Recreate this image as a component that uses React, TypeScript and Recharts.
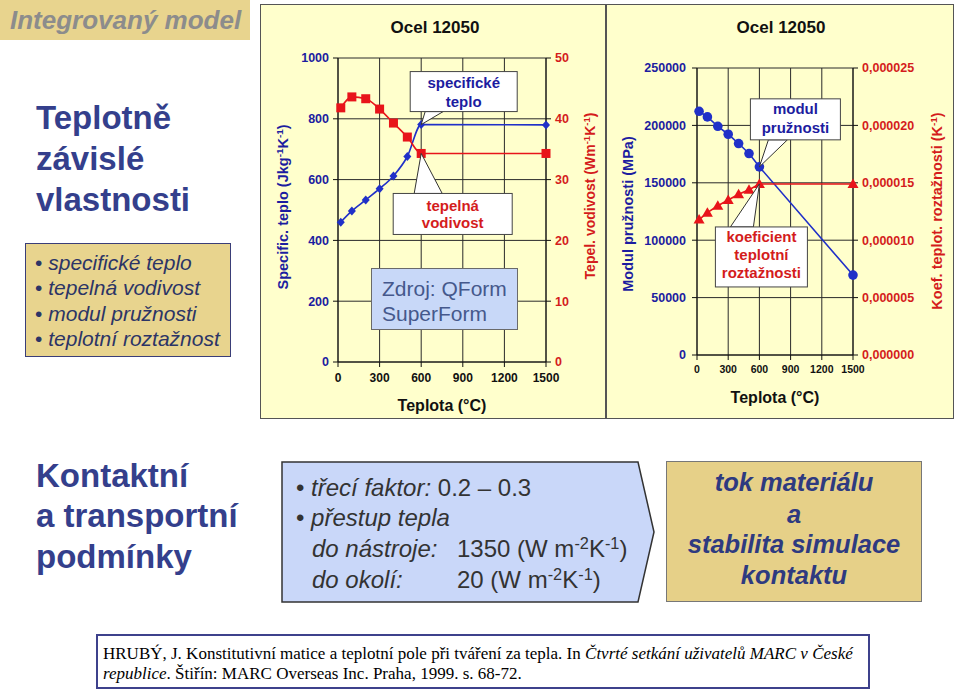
import React from 'react';
import { LineChart, Line, XAxis, YAxis, CartesianGrid, ReferenceDot } from 'recharts';

// ---- data ----
const temperature = [20, 100, 200, 300, 400, 500, 600, 1500];
const specificHeat = [460, 497, 533, 570, 612, 676, 781, 780];
const conductivity = [41.8, 43.6, 43.3, 41.6, 39.3, 37.0, 34.3, 34.3];
const elasticModulus = [212300, 207400, 199200, 192300, 184200, 175500, 163900, 69600];
const expansionCoef = [0.0000118, 0.0000124, 0.000013, 0.0000135, 0.000014, 0.0000144, 0.0000149, 0.0000149];

const tempTicks = [0, 300, 600, 900, 1200, 1500];
const heatTicks = [0, 200, 400, 600, 800, 1000];
const condTicks = [0, 10, 20, 30, 40, 50];
const modulusTicks = [0, 50000, 100000, 150000, 200000, 250000];
const coefTicks = [0, 0.000005, 0.00001, 0.000015, 0.00002, 0.000025];

const heatRows = temperature.map((t, i) => ({ t, heat: specificHeat[i], cond: conductivity[i] }));
const mechRows = temperature.map((t, i) => ({ t, mod: elasticModulus[i], coef: expansionCoef[i] }));

// ---- styles ----
const SANS = '"Liberation Sans", Arial, sans-serif';
const SERIF = '"Liberation Serif", "Times New Roman", serif';
const BLUE_TXT = '#1c1ca0';
const RED_TXT = '#d41c1c';
const BLUE_LINE = '#2030c8';
const RED_LINE = '#e8141a';
const PANEL = '#ffffcc';
const TAN = '#e8d48e';
const NAVY = '#343f8c';

const Diamond = (p: any) => {
  const { cx, cy, index } = p;
  if (cx == null || cy == null) return <g key={index} />;
  return <path key={index} d={`M${cx},${cy - 4.5} L${cx + 4},${cy} L${cx},${cy + 4.5} L${cx - 4},${cy} Z`} fill={BLUE_LINE} />;
};
const Square = (p: any) => {
  const { cx, cy, index } = p;
  if (cx == null || cy == null) return <g key={index} />;
  return <rect key={index} x={cx - 4.5} y={cy - 4.5} width={9} height={9} fill={RED_LINE} />;
};
const Circle = (p: any) => {
  const { cx, cy, index } = p;
  if (cx == null || cy == null) return <g key={index} />;
  return <circle key={index} cx={cx} cy={cy} r={4.8} fill={BLUE_LINE} />;
};
const Triangle = (p: any) => {
  const { cx, cy, index } = p;
  if (cx == null || cy == null) return <g key={index} />;
  return <path key={index} d={`M${cx},${cy - 5.5} L${cx + 5.5},${cy + 4} L${cx - 5.5},${cy + 4} Z`} fill={RED_LINE} />;
};

type Callout = {
  box: [number, number, number, number];
  wedge: [number, number, number, number];
  lines: string[];
  lineY: number[];
  color: string;
};

const makeCallout = (spec: Callout) => (props: any) => {
  const { cx, cy } = props;
  if (cx == null || cy == null) return <g />;
  const [bx, by, bw, bh] = spec.box;
  const [w1x, w1y, w2x, w2y] = spec.wedge;
  return (
    <g>
      <polygon
        points={`${cx},${cy} ${cx + w1x},${cy + w1y} ${cx + w2x},${cy + w2y}`}
        fill="#ffffff"
        stroke="#333"
        strokeWidth={1}
      />
      <rect x={cx + bx} y={cy + by} width={bw} height={bh} fill="#ffffff" stroke="#444" strokeWidth={1} />
      {spec.lines.map((s, i) => (
        <text
          key={i}
          x={cx + bx + bw / 2}
          y={cy + by + spec.lineY[i]}
          textAnchor="middle"
          dominantBaseline="central"
          fontFamily={SANS}
          fontWeight="bold"
          fontSize={15}
          fill={spec.color}
        >
          {s}
        </text>
      ))}
    </g>
  );
};

const heatCallout = makeCallout({
  box: [-11, -53, 107, 40],
  wedge: [4, -13, 22, -13],
  lines: ['specifické', 'teplo'],
  lineY: [11, 30],
  color: BLUE_TXT,
});
const condCallout = makeCallout({
  box: [-28, 40, 119, 41],
  wedge: [-7, 40, 21, 40],
  lines: ['tepelná', 'vodivost'],
  lineY: [12, 29],
  color: RED_TXT,
});
const modCallout = makeCallout({
  box: [-9, -68, 90, 41],
  wedge: [9, -27, 28, -27],
  lines: ['modul', 'pružnosti'],
  lineY: [10, 29],
  color: BLUE_TXT,
});
const coefCallout = makeCallout({
  box: [-44, 43, 92, 60],
  wedge: [-29, 43, -6, 43],
  lines: ['koeficient', 'teplotní', 'roztažnosti'],
  lineY: [10, 28, 46],
  color: RED_TXT,
});

const Sup = ({ children }: any) => (
  <span style={{ fontSize: '0.68em', position: 'relative', top: '-0.5em' }}>{children}</span>
);

const Abs = ({ x, y, anchor = 'middle', style, children }: any) => {
  const tx = anchor === 'middle' ? '-50%' : anchor === 'end' ? '-100%' : '0';
  return (
    <div
      style={{
        position: 'absolute',
        left: x,
        top: y,
        transform: `translate(${tx}, -50%)`,
        whiteSpace: 'nowrap',
        fontFamily: SANS,
        lineHeight: 1,
        ...style,
      }}
    >
      {children}
    </div>
  );
};

const RotTitle = ({ x, y, color, size = 14, children }: any) => (
  <div
    style={{
      position: 'absolute',
      left: x,
      top: y,
      transform: 'translate(-50%, -50%) rotate(-90deg)',
      whiteSpace: 'nowrap',
      fontFamily: SANS,
      fontWeight: 'bold',
      fontSize: size,
      color,
      lineHeight: 1,
    }}
  >
    {children}
  </div>
);

const fmtCoef = (v: number) => v.toFixed(6).replace('.', ',');

export default function App() {
  const axisTick = { fontFamily: SANS, fontWeight: 'bold' as const };
  const boxText = { fontSize: 24, color: '#333' };
  return (
    <div
      style={{
        position: 'absolute',
        left: 0,
        top: 0,
        width: 960,
        height: 698,
        background: '#ffffff',
        overflow: 'hidden',
        fontFamily: SANS,
      }}
    >
      {/* banner */}
      <div style={{ position: 'absolute', left: 0, top: 0, width: 250, height: 40, background: TAN }} />
      <Abs x={10} y={20} anchor="start" style={{ fontSize: 26, fontWeight: 'bold', fontStyle: 'italic', color: '#8c8c8c' }}>
        Integrovaný model
      </Abs>

      {/* left heading */}
      <Abs x={36} y={117} anchor="start" style={{ fontSize: 33, fontWeight: 'bold', color: NAVY }}>Teplotně</Abs>
      <Abs x={36} y={158} anchor="start" style={{ fontSize: 33, fontWeight: 'bold', color: NAVY }}>závislé</Abs>
      <Abs x={36} y={199} anchor="start" style={{ fontSize: 33, fontWeight: 'bold', color: NAVY }}>vlastnosti</Abs>

      <div
        style={{
          position: 'absolute',
          left: 25,
          top: 243,
          width: 206,
          height: 114,
          boxSizing: 'border-box',
          background: TAN,
          border: '1.5px solid #3a3e78',
        }}
      />
      {['specifické teplo', 'tepelná vodivost', 'modul pružnosti', 'teplotní roztažnost'].map((s, i) => (
        <Abs key={s} x={35} y={262 + i * 25.3} anchor="start" style={{ fontSize: 21, fontStyle: 'italic', color: '#2c3566' }}>
          <span style={{ fontStyle: 'normal' }}>•</span> {s}
        </Abs>
      ))}

      {/* chart panel */}
      <div
        style={{
          position: 'absolute',
          left: 260,
          top: 4,
          width: 694,
          height: 415,
          boxSizing: 'border-box',
          background: PANEL,
          border: '1.5px solid #555',
        }}
      />
      <div style={{ position: 'absolute', left: 605, top: 4, width: 2, height: 415, background: '#555' }} />

      <Abs x={435} y={27} style={{ fontSize: 17, fontWeight: 'bold', color: '#111' }}>Ocel 12050</Abs>
      <Abs x={781} y={27} style={{ fontSize: 17, fontWeight: 'bold', color: '#111' }}>Ocel 12050</Abs>

      {/* left chart */}
      <div style={{ position: 'absolute', left: 260, top: 4 }}>
        <LineChart width={346} height={415} data={heatRows} margin={{ top: 54, right: 0, bottom: 0, left: 0 }}>
          <CartesianGrid yAxisId="l" stroke="#2a2a2a" strokeWidth={1} fill="none" />
          <XAxis
            dataKey="t"
            type="number"
            domain={[0, 1500]}
            ticks={tempTicks}
            height={57}
            tickSize={5}
            tickMargin={6}
            interval={0}
            stroke="#111"
            tick={{ ...axisTick, fontSize: 12, fill: '#111' }}
          />
          <YAxis
            yAxisId="l"
            domain={[0, 1000]}
            ticks={heatTicks}
            width={78}
            tickSize={5}
            tickMargin={4}
            interval={0}
            stroke="#111"
            tick={{ ...axisTick, fontSize: 12.5, fill: BLUE_TXT }}
          />
          <YAxis
            yAxisId="r"
            orientation="right"
            domain={[0, 50]}
            ticks={condTicks}
            width={60}
            tickSize={5}
            tickMargin={4}
            interval={0}
            stroke="#111"
            tick={{ ...axisTick, fontSize: 12.5, fill: RED_TXT }}
          />
          <Line yAxisId="l" dataKey="heat" type="monotone" stroke={BLUE_LINE} strokeWidth={1.6} dot={Diamond} activeDot={false} isAnimationActive={false} />
          <Line yAxisId="r" dataKey="cond" type="monotone" stroke={RED_LINE} strokeWidth={1.6} dot={Square} activeDot={false} isAnimationActive={false} />
          <ReferenceDot yAxisId="l" x={temperature[6]} y={specificHeat[6]} shape={heatCallout} />
          <ReferenceDot yAxisId="r" x={temperature[6]} y={conductivity[6]} shape={condCallout} />
        </LineChart>
      </div>

      <div
        style={{
          position: 'absolute',
          left: 371,
          top: 268,
          width: 147,
          height: 62,
          boxSizing: 'border-box',
          background: '#c8d8f8',
          border: '1px solid #6a6a6a',
        }}
      />
      <Abs x={382} y={288} anchor="start" style={{ fontSize: 21, color: '#45588c' }}>Zdroj: QForm</Abs>
      <Abs x={382} y={313} anchor="start" style={{ fontSize: 21, color: '#45588c' }}>SuperForm</Abs>

      <Abs x={442} y={406} style={{ fontSize: 16, fontWeight: 'bold', color: '#111' }}>Teplota (°C)</Abs>
      <RotTitle x={283} y={207} color={BLUE_TXT} size={14.5}>
        Specific. teplo (Jkg<Sup>-1</Sup>K<Sup>-1</Sup>)
      </RotTitle>
      <RotTitle x={590} y={196} color={RED_TXT} size={14}>
        Tepel. vodivost (Wm<Sup>-1</Sup>K<Sup>-1</Sup>)
      </RotTitle>

      {/* right chart */}
      <div style={{ position: 'absolute', left: 606, top: 4 }}>
        <LineChart width={348} height={415} data={mechRows} margin={{ top: 64, right: 0, bottom: 0, left: 0 }}>
          <CartesianGrid yAxisId="l" stroke="#2a2a2a" strokeWidth={1} fill="none" />
          <XAxis
            dataKey="t"
            type="number"
            domain={[0, 1500]}
            ticks={tempTicks}
            height={64}
            tickSize={5}
            tickMargin={6}
            interval={0}
            stroke="#111"
            tick={{ ...axisTick, fontSize: 10.5, fill: '#111' }}
          />
          <YAxis
            yAxisId="l"
            domain={[0, 250000]}
            ticks={modulusTicks}
            width={91}
            tickSize={5}
            tickMargin={6}
            interval={0}
            stroke="#111"
            tick={{ ...axisTick, fontSize: 12.5, fill: BLUE_TXT }}
          />
          <YAxis
            yAxisId="r"
            orientation="right"
            domain={[0, 0.000025]}
            ticks={coefTicks}
            tickFormatter={fmtCoef}
            width={101}
            tickSize={5}
            tickMargin={4}
            interval={0}
            stroke="#111"
            tick={{ ...axisTick, fontSize: 12.5, fill: RED_TXT }}
          />
          <Line yAxisId="l" dataKey="mod" type="linear" stroke={BLUE_LINE} strokeWidth={1.6} dot={Circle} activeDot={false} isAnimationActive={false} />
          <Line yAxisId="r" dataKey="coef" type="linear" stroke={RED_LINE} strokeWidth={1.6} dot={Triangle} activeDot={false} isAnimationActive={false} />
          <ReferenceDot yAxisId="l" x={temperature[6]} y={elasticModulus[6]} shape={modCallout} />
          <ReferenceDot yAxisId="r" x={temperature[6]} y={expansionCoef[6]} shape={coefCallout} />
        </LineChart>
      </div>

      <Abs x={775} y={398} style={{ fontSize: 16, fontWeight: 'bold', color: '#111' }}>Teplota (°C)</Abs>
      <RotTitle x={628} y={214} color={BLUE_TXT} size={14.5}>
        Modul pružnosti (MPa)
      </RotTitle>
      <RotTitle x={937} y={211} color={RED_TXT} size={14.5}>
        Koef. teplot. roztažnosti (K<Sup>-1</Sup>)
      </RotTitle>

      {/* bottom left heading */}
      <Abs x={36} y={475} anchor="start" style={{ fontSize: 33, fontWeight: 'bold', color: NAVY }}>Kontaktní</Abs>
      <Abs x={36} y={515} anchor="start" style={{ fontSize: 33, fontWeight: 'bold', color: NAVY }}>a transportní</Abs>
      <Abs x={36} y={556} anchor="start" style={{ fontSize: 33, fontWeight: 'bold', color: NAVY }}>podmínky</Abs>

      {/* pentagon */}
      <svg style={{ position: 'absolute', left: 0, top: 0 }} width={960} height={698}>
        <polygon points="282,462 638,462 654,532 638,602 282,602" fill="#c9d7f9" stroke="#333" strokeWidth={1.5} />
      </svg>
      <Abs x={296} y={488} anchor="start" style={boxText}>
        • <i>třecí faktor:</i> 0.2 – 0.3
      </Abs>
      <Abs x={296} y={518} anchor="start" style={boxText}>
        • <i>přestup tepla</i>
      </Abs>
      <Abs x={312} y={549} anchor="start" style={boxText}>
        <i>do nástroje:</i>
      </Abs>
      <Abs x={457} y={549} anchor="start" style={boxText}>
        1350 (W m<Sup>-2</Sup>K<Sup>-1</Sup>)
      </Abs>
      <Abs x={312} y={580} anchor="start" style={boxText}>
        <i>do okolí:</i>
      </Abs>
      <Abs x={457} y={580} anchor="start" style={boxText}>
        20 (W m<Sup>-2</Sup>K<Sup>-1</Sup>)
      </Abs>

      {/* tan result box */}
      <div
        style={{
          position: 'absolute',
          left: 666,
          top: 461,
          width: 256,
          height: 141,
          boxSizing: 'border-box',
          background: '#e6d088',
          border: '1.5px solid #777',
        }}
      />
      {['tok materiálu', 'a', 'stabilita simulace', 'kontaktu'].map((s, i) => (
        <Abs key={s} x={794} y={[483, 515, 545, 576][i]} style={{ fontSize: 25.5, fontWeight: 'bold', fontStyle: 'italic', color: '#2e3a80' }}>
          {s}
        </Abs>
      ))}

      {/* reference */}
      <div
        style={{
          position: 'absolute',
          left: 96,
          top: 634,
          width: 774,
          height: 55,
          boxSizing: 'border-box',
          background: '#fff',
          border: '2px solid #3e418c',
        }}
      />
      <Abs x={103} y={653} anchor="start" style={{ fontFamily: SERIF, fontSize: 17, color: '#000' }}>
        HRUBÝ, J. Konstitutivní matice a teplotní pole při tváření za tepla. In <i>Čtvrté setkání uživatelů MARC v České</i>
      </Abs>
      <Abs x={103} y={673} anchor="start" style={{ fontFamily: SERIF, fontSize: 17, color: '#000' }}>
        <i>republice</i>. Štiřín: MARC Overseas Inc. Praha, 1999. s. 68-72.
      </Abs>
    </div>
  );
}
